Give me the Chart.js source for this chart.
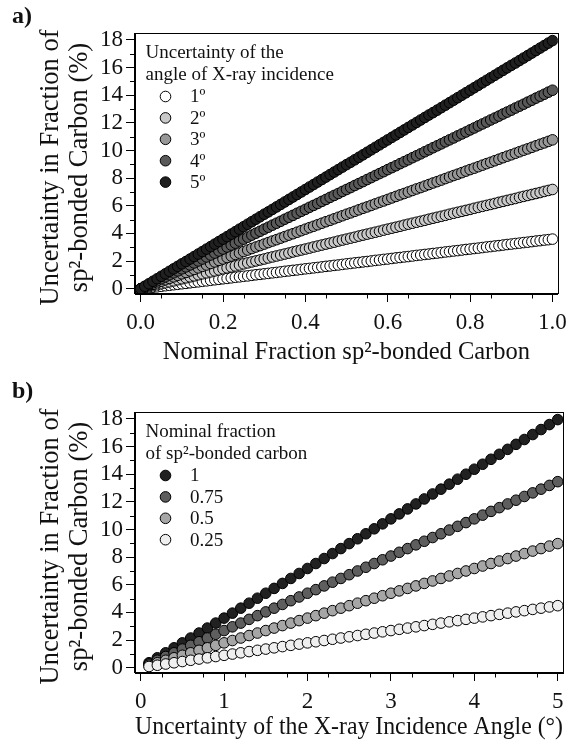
<!DOCTYPE html>
<html>
<head>
<meta charset="utf-8">
<script src="https://cdn.jsdelivr.net/npm/chart.js@4.4.1/dist/chart.umd.min.js"></script>
<style>
  body { margin: 0; background: #fff; }
  #wrap { position: relative; width: 574px; height: 744px; }
  .panel { position: absolute; left: 0; width: 574px; height: 372px; }
  .tag { position: absolute; left: 12px; font: bold 24px/24px "Liberation Serif", serif; color: #111; }
</style>
</head>
<body>
<div id="wrap">
  <div class="panel" style="top:0"><canvas id="chartA" width="574" height="372"></canvas></div>
  <div class="panel" style="top:372px"><canvas id="chartB" width="574" height="372"></canvas></div>
  <div class="tag" style="top:3px">a)</div>
  <div class="tag" style="top:378px">b)</div>
</div>
<script>
// Panel a: nominal fraction of sp2 carbon on x, one series per angle uncertainty
const xA = [
  0, 0.01, 0.02, 0.03, 0.04, 0.05, 0.06, 0.07, 0.08, 0.09,
  0.10, 0.11, 0.12, 0.13, 0.14, 0.15, 0.16, 0.17, 0.18, 0.19,
  0.20, 0.21, 0.22, 0.23, 0.24, 0.25, 0.26, 0.27, 0.28, 0.29,
  0.30, 0.31, 0.32, 0.33, 0.34, 0.35, 0.36, 0.37, 0.38, 0.39,
  0.40, 0.41, 0.42, 0.43, 0.44, 0.45, 0.46, 0.47, 0.48, 0.49,
  0.50, 0.51, 0.52, 0.53, 0.54, 0.55, 0.56, 0.57, 0.58, 0.59,
  0.60, 0.61, 0.62, 0.63, 0.64, 0.65, 0.66, 0.67, 0.68, 0.69,
  0.70, 0.71, 0.72, 0.73, 0.74, 0.75, 0.76, 0.77, 0.78, 0.79,
  0.80, 0.81, 0.82, 0.83, 0.84, 0.85, 0.86, 0.87, 0.88, 0.89,
  0.90, 0.91, 0.92, 0.93, 0.94, 0.95, 0.96, 0.97, 0.98, 0.99,
  1.00
];
const deg1 = [
  0, 0.04, 0.07, 0.11, 0.14, 0.18, 0.22, 0.25, 0.29, 0.32,
  0.36, 0.39, 0.43, 0.47, 0.50, 0.54, 0.57, 0.61, 0.65, 0.68,
  0.72, 0.75, 0.79, 0.83, 0.86, 0.90, 0.93, 0.97, 1.01, 1.04,
  1.08, 1.11, 1.15, 1.18, 1.22, 1.26, 1.29, 1.33, 1.36, 1.40,
  1.44, 1.47, 1.51, 1.54, 1.58, 1.62, 1.65, 1.69, 1.72, 1.76,
  1.80, 1.83, 1.87, 1.90, 1.94, 1.97, 2.01, 2.05, 2.08, 2.12,
  2.15, 2.19, 2.23, 2.26, 2.30, 2.33, 2.37, 2.41, 2.44, 2.48,
  2.51, 2.55, 2.58, 2.62, 2.66, 2.69, 2.73, 2.76, 2.80, 2.84,
  2.87, 2.91, 2.94, 2.98, 3.02, 3.05, 3.09, 3.12, 3.16, 3.20,
  3.23, 3.27, 3.30, 3.34, 3.37, 3.41, 3.45, 3.48, 3.52, 3.55,
  3.59
];
const deg2 = [
  0, 0.07, 0.14, 0.22, 0.29, 0.36, 0.43, 0.50, 0.57, 0.65,
  0.72, 0.79, 0.86, 0.93, 1.01, 1.08, 1.15, 1.22, 1.29, 1.36,
  1.44, 1.51, 1.58, 1.65, 1.72, 1.80, 1.87, 1.94, 2.01, 2.08,
  2.15, 2.23, 2.30, 2.37, 2.44, 2.51, 2.58, 2.66, 2.73, 2.80,
  2.87, 2.94, 3.02, 3.09, 3.16, 3.23, 3.30, 3.37, 3.45, 3.52,
  3.59, 3.66, 3.73, 3.81, 3.88, 3.95, 4.02, 4.09, 4.16, 4.24,
  4.31, 4.38, 4.45, 4.52, 4.60, 4.67, 4.74, 4.81, 4.88, 4.95,
  5.03, 5.10, 5.17, 5.24, 5.31, 5.39, 5.46, 5.53, 5.60, 5.67,
  5.74, 5.82, 5.89, 5.96, 6.03, 6.10, 6.17, 6.25, 6.32, 6.39,
  6.46, 6.53, 6.61, 6.68, 6.75, 6.82, 6.89, 6.96, 7.04, 7.11,
  7.18
];
const deg3 = [
  0, 0.11, 0.22, 0.32, 0.43, 0.54, 0.65, 0.75, 0.86, 0.97,
  1.08, 1.18, 1.29, 1.40, 1.51, 1.62, 1.72, 1.83, 1.94, 2.05,
  2.15, 2.26, 2.37, 2.48, 2.58, 2.69, 2.80, 2.91, 3.02, 3.12,
  3.23, 3.34, 3.45, 3.55, 3.66, 3.77, 3.88, 3.98, 4.09, 4.20,
  4.31, 4.42, 4.52, 4.63, 4.74, 4.85, 4.95, 5.06, 5.17, 5.28,
  5.39, 5.49, 5.60, 5.71, 5.82, 5.92, 6.03, 6.14, 6.25, 6.35,
  6.46, 6.57, 6.68, 6.79, 6.89, 7.00, 7.11, 7.22, 7.32, 7.43,
  7.54, 7.65, 7.75, 7.86, 7.97, 8.08, 8.19, 8.29, 8.40, 8.51,
  8.62, 8.72, 8.83, 8.94, 9.05, 9.15, 9.26, 9.37, 9.48, 9.59,
  9.69, 9.80, 9.91, 10.02, 10.12, 10.23, 10.34, 10.45, 10.55, 10.66,
  10.77
];
const deg4 = [
  0, 0.14, 0.29, 0.43, 0.57, 0.72, 0.86, 1.01, 1.15, 1.29,
  1.44, 1.58, 1.72, 1.87, 2.01, 2.15, 2.30, 2.44, 2.58, 2.73,
  2.87, 3.02, 3.16, 3.30, 3.45, 3.59, 3.73, 3.88, 4.02, 4.16,
  4.31, 4.45, 4.60, 4.74, 4.88, 5.03, 5.17, 5.31, 5.46, 5.60,
  5.74, 5.89, 6.03, 6.17, 6.32, 6.46, 6.61, 6.75, 6.89, 7.04,
  7.18, 7.32, 7.47, 7.61, 7.75, 7.90, 8.04, 8.19, 8.33, 8.47,
  8.62, 8.76, 8.90, 9.05, 9.19, 9.33, 9.48, 9.62, 9.76, 9.91,
  10.05, 10.20, 10.34, 10.48, 10.63, 10.77, 10.91, 11.06, 11.20, 11.34,
  11.49, 11.63, 11.78, 11.92, 12.06, 12.21, 12.35, 12.49, 12.64, 12.78,
  12.92, 13.07, 13.21, 13.35, 13.50, 13.64, 13.79, 13.93, 14.07, 14.22,
  14.36
];
const deg5 = [
  0, 0.18, 0.36, 0.54, 0.72, 0.90, 1.08, 1.26, 1.44, 1.62,
  1.80, 1.97, 2.15, 2.33, 2.51, 2.69, 2.87, 3.05, 3.23, 3.41,
  3.59, 3.77, 3.95, 4.13, 4.31, 4.49, 4.67, 4.85, 5.03, 5.21,
  5.39, 5.56, 5.74, 5.92, 6.10, 6.28, 6.46, 6.64, 6.82, 7.00,
  7.18, 7.36, 7.54, 7.72, 7.90, 8.08, 8.26, 8.44, 8.62, 8.80,
  8.98, 9.15, 9.33, 9.51, 9.69, 9.87, 10.05, 10.23, 10.41, 10.59,
  10.77, 10.95, 11.13, 11.31, 11.49, 11.67, 11.85, 12.03, 12.21, 12.39,
  12.57, 12.74, 12.92, 13.10, 13.28, 13.46, 13.64, 13.82, 14.00, 14.18,
  14.36, 14.54, 14.72, 14.90, 15.08, 15.26, 15.44, 15.62, 15.80, 15.98,
  16.16, 16.33, 16.51, 16.69, 16.87, 17.05, 17.23, 17.41, 17.59, 17.77,
  17.95
];
const labelsA = ['1º', '2º', '3º', '4º', '5º'];
const fillsA = ['#ffffff', '#c9c9c9', '#979797', '#595959', '#202020'];

// Panel b: angle uncertainty on x, one series per nominal fraction
const xB = [
  0.1, 0.2, 0.3, 0.4, 0.5, 0.6, 0.7, 0.8, 0.9, 1.0,
  1.1, 1.2, 1.3, 1.4, 1.5, 1.6, 1.7, 1.8, 1.9, 2.0,
  2.1, 2.2, 2.3, 2.4, 2.5, 2.6, 2.7, 2.8, 2.9, 3.0,
  3.1, 3.2, 3.3, 3.4, 3.5, 3.6, 3.7, 3.8, 3.9, 4.0,
  4.1, 4.2, 4.3, 4.4, 4.5, 4.6, 4.7, 4.8, 4.9, 5.0
];
const frac100 = [
  0.36, 0.72, 1.08, 1.44, 1.80, 2.15, 2.51, 2.87, 3.23, 3.59,
  3.95, 4.31, 4.67, 5.03, 5.39, 5.74, 6.10, 6.46, 6.82, 7.18,
  7.54, 7.90, 8.26, 8.62, 8.98, 9.33, 9.69, 10.05, 10.41, 10.77,
  11.13, 11.49, 11.85, 12.21, 12.57, 12.92, 13.28, 13.64, 14.00, 14.36,
  14.72, 15.08, 15.44, 15.80, 16.16, 16.51, 16.87, 17.23, 17.59, 17.95
];
const frac075 = [
  0.27, 0.54, 0.81, 1.08, 1.35, 1.62, 1.88, 2.15, 2.42, 2.69,
  2.96, 3.23, 3.50, 3.77, 4.04, 4.31, 4.58, 4.85, 5.12, 5.39,
  5.65, 5.92, 6.19, 6.46, 6.73, 7.00, 7.27, 7.54, 7.81, 8.08,
  8.35, 8.62, 8.89, 9.15, 9.42, 9.69, 9.96, 10.23, 10.50, 10.77,
  11.04, 11.31, 11.58, 11.85, 12.12, 12.39, 12.65, 12.92, 13.19, 13.46
];
const frac050 = [
  0.18, 0.36, 0.54, 0.72, 0.90, 1.08, 1.26, 1.44, 1.62, 1.80,
  1.97, 2.15, 2.33, 2.51, 2.69, 2.87, 3.05, 3.23, 3.41, 3.59,
  3.77, 3.95, 4.13, 4.31, 4.49, 4.67, 4.85, 5.03, 5.21, 5.39,
  5.56, 5.74, 5.92, 6.10, 6.28, 6.46, 6.64, 6.82, 7.00, 7.18,
  7.36, 7.54, 7.72, 7.90, 8.08, 8.26, 8.44, 8.62, 8.80, 8.98
];
const frac025 = [
  0.09, 0.18, 0.27, 0.36, 0.45, 0.54, 0.63, 0.72, 0.81, 0.90,
  0.99, 1.08, 1.17, 1.26, 1.35, 1.44, 1.53, 1.62, 1.71, 1.80,
  1.88, 1.97, 2.06, 2.15, 2.24, 2.33, 2.42, 2.51, 2.60, 2.69,
  2.78, 2.87, 2.96, 3.05, 3.14, 3.23, 3.32, 3.41, 3.50, 3.59,
  3.68, 3.77, 3.86, 3.95, 4.04, 4.13, 4.22, 4.31, 4.40, 4.49
];
const labelsB = ['1', '0.75', '0.5', '0.25'];
const fillsB = ['#212121', '#5e5e5e', '#a6a6a6', '#efefef'];

// Tick labels
const yTicks = [0, 2, 4, 6, 8, 10, 12, 14, 16, 18];
const xTicksA = [0, 0.2, 0.4, 0.6, 0.8, 1.0];
const xTicksB = [0, 1, 2, 3, 4, 5];

const yTitle = ['Uncertainty in Fraction of', 'sp²-bonded Carbon (%)'];
const xTitleA = 'Nominal Fraction sp²-bonded Carbon';
const xTitleB = 'Uncertainty of the X-ray Incidence Angle (°)';
const legendTitleA = ['Uncertainty of the', 'angle of X-ray incidence'];
const legendTitleB = ['Nominal fraction', 'of sp²-bonded carbon'];

const SERIF = '"Liberation Serif", "Times New Roman", serif';
Chart.defaults.font.family = SERIF;
Chart.defaults.color = '#111';

// Frame, minor ticks, y title and the in-plot legend
const framePlugin = {
  id: 'framePlugin',
  afterDraw(chart, args, opts) {
    const {ctx, chartArea: a, scales} = chart;
    ctx.save();
    ctx.strokeStyle = '#000';
    ctx.lineWidth = 1;
    ctx.strokeRect(Math.round(a.left) - 0.5, Math.round(a.top) + 0.5,
      Math.round(a.right - a.left) + 1, Math.round(a.bottom - a.top) - 1);

    // minor ticks
    ctx.beginPath();
    const xs = scales.x;
    for (let v = opts.xMinor; v < xs.max; v += opts.xMinor * 2) {
      const px = Math.round(xs.getPixelForValue(v)) + 0.5;
      ctx.moveTo(px, a.bottom);
      ctx.lineTo(px, a.bottom + 4.5);
    }
    const ys = scales.y;
    for (let v = 1; v < ys.max; v += 2) {
      const py = Math.round(ys.getPixelForValue(v)) + 0.5;
      ctx.moveTo(a.left - 5, py);
      ctx.lineTo(a.left, py);
    }
    ctx.stroke();

    // two-line y title, rotated
    ctx.save();
    ctx.translate(0, (a.top + a.bottom) / 2 + 4);
    ctx.rotate(-Math.PI / 2);
    ctx.font = '26.5px ' + SERIF;
    ctx.fillStyle = '#111';
    ctx.textAlign = 'center';
    ctx.textBaseline = 'middle';
    yTitle.forEach((t, i) => ctx.fillText(t, 0, 51 + i * 29));
    ctx.restore();

    // legend
    ctx.font = '19px ' + SERIF;
    ctx.fillStyle = '#111';
    ctx.textBaseline = 'alphabetic';
    opts.title.forEach((t, i) => ctx.fillText(t, a.left + 10.5, a.top + 25 + i * 21.5));
    chart.data.datasets.forEach((ds, i) => {
      const cy = a.top + 63.5 + i * 21.4;
      ctx.beginPath();
      ctx.arc(a.left + 30.5, cy, 5.3, 0, 2 * Math.PI);
      ctx.fillStyle = ds.backgroundColor;
      ctx.fill();
      ctx.strokeStyle = '#000';
      ctx.stroke();
      ctx.fillStyle = '#111';
      ctx.textBaseline = 'middle';
      ctx.fillText(ds.label, a.left + 55, cy + 1);
    });
    ctx.restore();
  }
};

function makeChart(id, p) {
  const n = p.series.length;
  const datasets = p.series.map((ys, i) => ({
    label: p.labels[i],
    data: p.x.map((x, j) => ({x: x, y: ys[j]})),
    backgroundColor: p.fills[i],
    borderColor: '#000',
    borderWidth: 1,
    pointRadius: 5.3,
    pointHoverRadius: 5.3,
    showLine: false,
    order: n - i   // later series drawn on top
  }));
  return new Chart(document.getElementById(id), {
    type: 'scatter',
    data: {datasets: datasets},
    plugins: [framePlugin],
    options: {
      responsive: false,
      animation: false,
      events: [],
      layout: {padding: {left: 0, right: 11, top: p.top, bottom: 0}},
      plugins: {
        legend: {display: false},
        tooltip: {enabled: false},
        framePlugin: {title: p.legendTitle, xMinor: p.xMinor}
      },
      scales: {
        x: {
          type: 'linear',
          min: p.xMin, max: p.xMax,
          afterBuildTicks: s => { s.ticks = p.xTicks.map(v => ({value: v})); },
          afterFit: s => { s.height = p.xHeight; },
          ticks: {
            callback: p.xFmt,
            autoSkip: false, maxRotation: 0,
            padding: 7,
            color: '#111',
            font: {size: 23}
          },
          grid: {drawOnChartArea: false, tickLength: 8, color: '#000', lineWidth: 1},
          border: {display: true, color: '#000', width: 1},
          title: {
            display: true, text: p.xTitle, color: '#111',
            font: {size: 24.5, lineHeight: 1.2},
            padding: {top: 0, bottom: p.xTitlePad}
          }
        },
        y: {
          type: 'linear',
          min: -0.38, max: 18.5,
          afterBuildTicks: s => { s.ticks = yTicks.map(v => ({value: v})); },
          afterFit: s => { s.width = 135; },
          ticks: {
            autoSkip: false,
            padding: 3,
            color: '#111',
            font: {size: 23}
          },
          grid: {drawOnChartArea: false, tickLength: 9, color: '#000', lineWidth: 1},
          border: {display: true, color: '#000', width: 1}
        }
      }
    }
  });
}

makeChart('chartA', {
  x: xA, series: [deg1, deg2, deg3, deg4, deg5],
  labels: labelsA, fills: fillsA, legendTitle: legendTitleA,
  xMin: -0.0137, xMax: 1.0127, xTicks: xTicksA, xMinor: 0.05,
  xFmt: v => v.toFixed(1), xTitle: xTitleA,
  top: 33, xHeight: 78, xTitlePad: 4.5
});

makeChart('chartB', {
  x: xB, series: [frac100, frac075, frac050, frac025],
  labels: labelsB, fills: fillsB, legendTitle: legendTitleB,
  xMin: -0.068, xMax: 5.063, xTicks: xTicksB, xMinor: 0.25,
  xFmt: v => String(v), xTitle: xTitleB,
  top: 40, xHeight: 71, xTitlePad: 1.5
});
</script>
</body>
</html>
